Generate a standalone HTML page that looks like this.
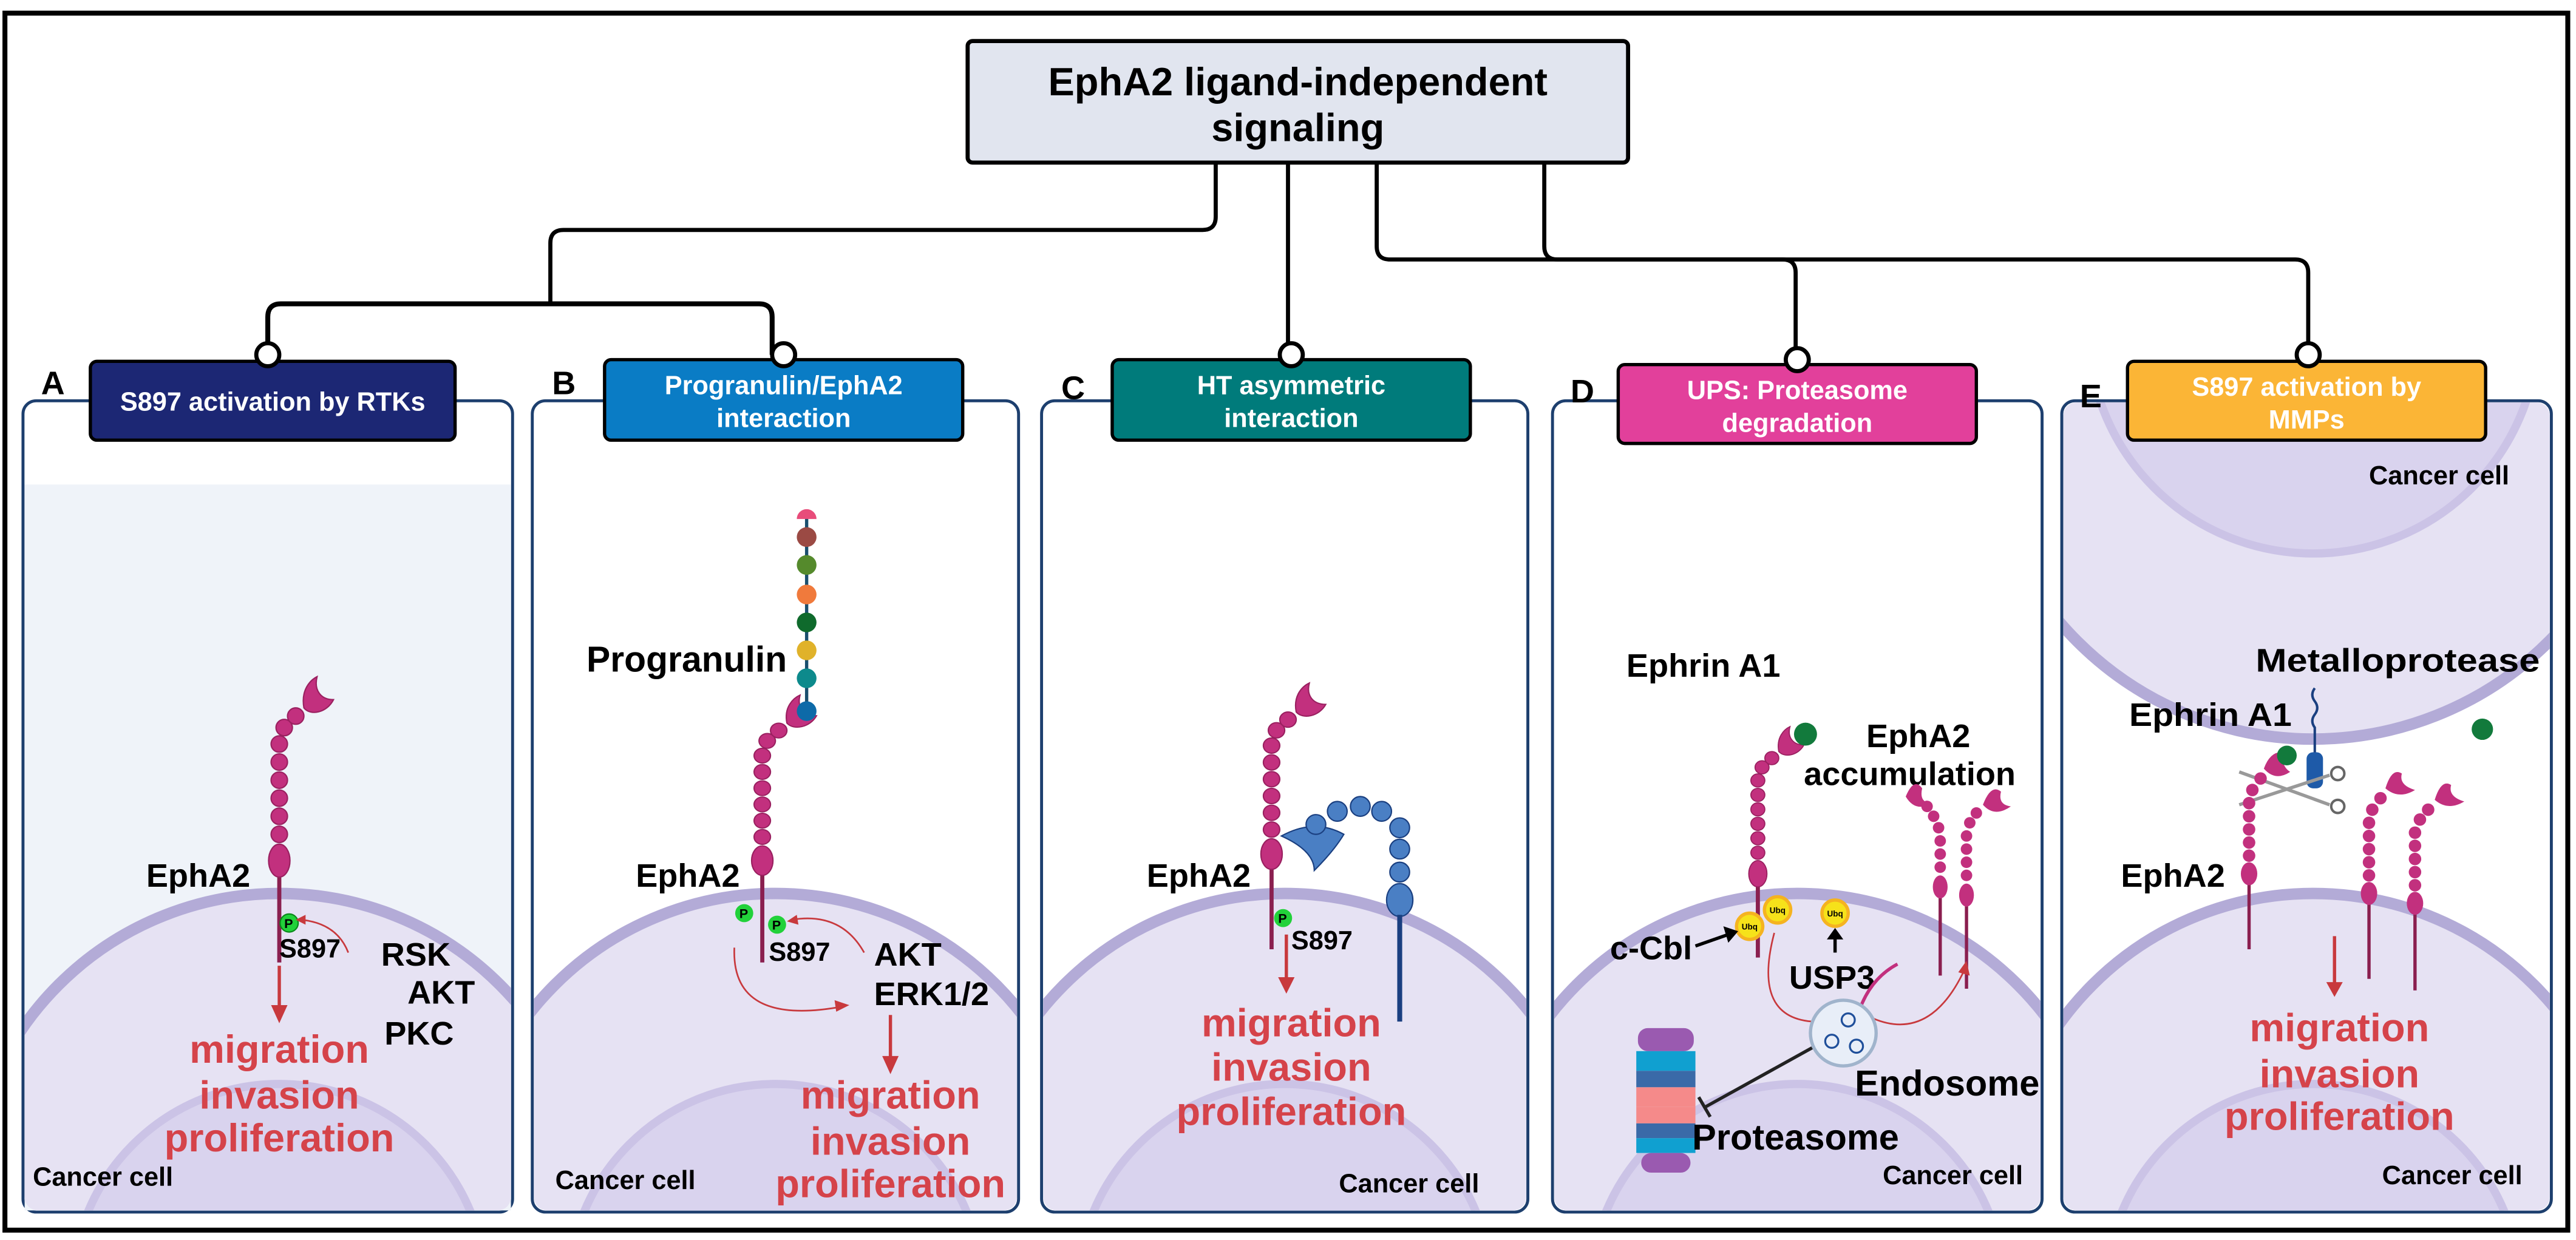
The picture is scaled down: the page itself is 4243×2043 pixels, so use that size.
<!DOCTYPE html>
<html><head><meta charset="utf-8"><style>
html,body{margin:0;padding:0;background:#fff;overflow:hidden;width:4243px;height:2043px}
svg{display:block}
text{font-family:"Liberation Sans",sans-serif;font-weight:bold}
</style></head><body>
<svg width="4243" height="2043" viewBox="0 0 1568 755" preserveAspectRatio="none" xmlns="http://www.w3.org/2000/svg">
<defs>
<g id="rec">
 <g fill="#c2307e" stroke="#9a2060" stroke-width="0.8">
 <ellipse cx="0" cy="0" rx="6.5" ry="10"/>
 <circle cx="0" cy="-16" r="5"/><circle cx="0" cy="-27" r="5"/><circle cx="0" cy="-38" r="5"/>
 <circle cx="0" cy="-49" r="5"/><circle cx="0" cy="-60" r="5"/><circle cx="0" cy="-71" r="5"/>
 <circle cx="3" cy="-81" r="5"/><circle cx="10" cy="-88" r="5"/>
 <path d="M15,-93 C13,-104 19,-110 23,-112 C21,-104 25,-98 33,-98 C29,-90 19,-88 15,-93Z"/>
 </g>
</g>
<g id="cir"><circle r="7" fill="#fff" stroke="#000" stroke-width="2.5"/></g>
</defs>
<rect x="3" y="8" width="1560" height="741" fill="#fff" stroke="#000" stroke-width="3"/>
<g fill="none" stroke="#000" stroke-width="2.5">
<path d="M740,98 V132 Q740,140 732,140 H343 Q335,140 335,148 V185"/>
<path d="M163,216 V193 Q163,185 171,185 H462 Q470,185 470,193 V216" stroke-width="3"/>
<path d="M784,98 V216"/>
<path d="M838,98 V150 Q838,158 846,158 H1085 Q1093,158 1093,166 V218"/>
<path d="M940,98 V150 Q940,158 948,158 H1397 Q1405,158 1405,166 V216"/>
</g>
<rect x="589" y="25" width="402" height="74" rx="3" fill="#e1e5ef" stroke="#000" stroke-width="2.5"/>
<text x="790" y="58" font-size="24" text-anchor="middle">EphA2 ligand-independent</text>
<text x="790" y="86" font-size="24" text-anchor="middle">signaling</text>
<g fill="none" stroke="#1d3f6e" stroke-width="1.8">
<rect x="14" y="244" width="298" height="494" rx="8"/>
<rect x="324" y="244" width="296" height="494" rx="8"/>
<rect x="634" y="244" width="296" height="494" rx="8"/>
<rect x="945" y="244" width="298" height="494" rx="8"/>
<rect x="1255" y="244" width="298" height="494" rx="8"/>
</g>
<rect x="15" y="295" width="296" height="442" fill="#eff3f9"/>
<clipPath id="cA"><rect x="15" y="245" width="296" height="492" rx="8"/></clipPath>
<clipPath id="cB"><rect x="325" y="245" width="294" height="492" rx="8"/></clipPath>
<clipPath id="cC"><rect x="635" y="245" width="294" height="492" rx="8"/></clipPath>
<clipPath id="cD"><rect x="946" y="245" width="296" height="492" rx="8"/></clipPath>
<clipPath id="cE"><rect x="1256" y="245" width="296" height="492" rx="8"/></clipPath>
<g clip-path="url(#cA)"><circle cx="170" cy="734" r="190" fill="#e6e2f3" stroke="#b3abd7" stroke-width="7"/><circle cx="170" cy="786" r="126" fill="#d9d3ee" stroke="#cbc3e6" stroke-width="5"/></g>
<g clip-path="url(#cB)"><circle cx="472" cy="734" r="190" fill="#e6e2f3" stroke="#b3abd7" stroke-width="7"/><circle cx="472" cy="786" r="126" fill="#d9d3ee" stroke="#cbc3e6" stroke-width="5"/></g>
<g clip-path="url(#cC)"><circle cx="782" cy="734" r="190" fill="#e6e2f3" stroke="#b3abd7" stroke-width="7"/><circle cx="782" cy="786" r="126" fill="#d9d3ee" stroke="#cbc3e6" stroke-width="5"/></g>
<g clip-path="url(#cD)"><circle cx="1094" cy="734" r="190" fill="#e6e2f3" stroke="#b3abd7" stroke-width="7"/><circle cx="1094" cy="786" r="126" fill="#d9d3ee" stroke="#cbc3e6" stroke-width="5"/></g>
<g clip-path="url(#cE)"><rect x="1256" y="245" width="296" height="60" fill="#e6e2f3"/><circle cx="1408" cy="247" r="203" fill="#e6e2f3" stroke="#b3abd7" stroke-width="7"/><circle cx="1408" cy="200" r="137" fill="#d9d3ee" stroke="#cbc3e6" stroke-width="5"/><circle cx="1408" cy="734" r="190" fill="#e6e2f3" stroke="#b3abd7" stroke-width="7"/><circle cx="1408" cy="786" r="126" fill="#d9d3ee" stroke="#cbc3e6" stroke-width="5"/></g>
<rect x="55" y="220" width="222" height="48" rx="4" fill="#1c2774" stroke="#000" stroke-width="2"/>
<text x="166" y="250" font-size="16" fill="#fff" text-anchor="middle">S897 activation by RTKs</text>
<rect x="368" y="219" width="218" height="49" rx="4" fill="#0a7cc5" stroke="#000" stroke-width="2"/>
<text x="477" y="240" font-size="16" fill="#fff" text-anchor="middle">Progranulin/EphA2</text>
<text x="477" y="260" font-size="16" fill="#fff" text-anchor="middle">interaction</text>
<rect x="677" y="219" width="218" height="49" rx="4" fill="#007b7b" stroke="#000" stroke-width="2"/>
<text x="786" y="240" font-size="16" fill="#fff" text-anchor="middle">HT asymmetric</text>
<text x="786" y="260" font-size="16" fill="#fff" text-anchor="middle">interaction</text>
<rect x="985" y="222" width="218" height="48" rx="4" fill="#e2409b" stroke="#000" stroke-width="2"/>
<text x="1094" y="243" font-size="16" fill="#fff" text-anchor="middle">UPS: Proteasome</text>
<text x="1094" y="263" font-size="16" fill="#fff" text-anchor="middle">degradation</text>
<rect x="1295" y="220" width="218" height="48" rx="4" fill="#fbb536" stroke="#000" stroke-width="2"/>
<text x="1404" y="241" font-size="16" fill="#fff" text-anchor="middle">S897 activation by</text>
<text x="1404" y="261" font-size="16" fill="#fff" text-anchor="middle">MMPs</text>
<use href="#cir" x="163" y="216"/><use href="#cir" x="477" y="216"/><use href="#cir" x="786" y="216"/><use href="#cir" x="1094" y="219"/><use href="#cir" x="1405" y="216"/>
<g font-size="20"><text x="25" y="240">A</text><text x="336" y="240">B</text><text x="646" y="243">C</text><text x="956" y="245">D</text><text x="1266" y="248">E</text></g>
<!-- Panel A -->
<line x1="170" y1="530" x2="170" y2="586" stroke="#8a1f4f" stroke-width="2.5"/>
<use href="#rec" transform="translate(170,524)"/>
<text x="89" y="540" font-size="20">EphA2</text>
<circle cx="176" cy="562" r="5.5" fill="#22d13a" stroke="#0a8a1a" stroke-width="0.8"/><text x="173" y="565" font-size="8" font-weight="normal">P</text>
<text x="170" y="583" font-size="16">S897</text>
<path d="M212,580 Q205,562 183,560" fill="none" stroke="#c8393d" stroke-width="1"/><path d="M186,557 L180,560 L186,563Z" fill="#c8393d"/>
<g font-size="20"><text x="232" y="588">RSK</text><text x="248" y="611">AKT</text><text x="234" y="636">PKC</text></g>
<line x1="170" y1="588" x2="170" y2="614" stroke="#c8393d" stroke-width="2"/><path d="M165,612 L175,612 L170,623Z" fill="#c8393d"/>
<g font-size="24" fill="#d5434a" text-anchor="middle"><text x="170" y="647">migration</text><text x="170" y="675">invasion</text><text x="170" y="701">proliferation</text></g>
<text x="20" y="722" font-size="16">Cancer cell</text>
<!-- Panel B -->
<line x1="491" y1="313" x2="491" y2="433" stroke="#1a4f6e" stroke-width="2"/>
<path d="M485,316 A6,6 0 0 1 497,316Z" fill="#e84c7a"/>
<circle cx="491" cy="327" r="6" fill="#9b4a44"/><circle cx="491" cy="344" r="6" fill="#558a2c"/><circle cx="491" cy="362" r="6" fill="#f07a3c"/><circle cx="491" cy="379" r="6" fill="#0f6a2c"/><circle cx="491" cy="396" r="6" fill="#e0b22a"/><circle cx="491" cy="413" r="6" fill="#0d8a8c"/>
<line x1="464" y1="530" x2="464" y2="586" stroke="#8a1f4f" stroke-width="2.5"/>
<use href="#rec" transform="translate(464,524) scale(1,0.9)"/>
<circle cx="491" cy="433" r="6" fill="#0d6aa8"/>
<text x="357" y="409" font-size="22" textLength="122" lengthAdjust="spacingAndGlyphs">Progranulin</text>
<text x="387" y="540" font-size="20">EphA2</text>
<circle cx="453" cy="556" r="5.5" fill="#22d13a"/><circle cx="473" cy="563" r="5.5" fill="#22d13a"/>
<text x="450" y="559" font-size="8" font-weight="normal">P</text><text x="470" y="566" font-size="8" font-weight="normal">P</text>
<text x="468" y="585" font-size="16">S897</text>
<path d="M526,580 Q512,555 482,560" fill="none" stroke="#c8393d" stroke-width="1"/><path d="M485,557 L479,561 L486,563Z" fill="#c8393d"/>
<path d="M447,577 Q445,625 512,613" fill="none" stroke="#c8393d" stroke-width="1"/><path d="M508,609 L517,612 L509,616Z" fill="#c8393d"/>
<g font-size="20"><text x="532" y="588">AKT</text><text x="532" y="612">ERK1/2</text></g>
<line x1="542" y1="618" x2="542" y2="645" stroke="#c8393d" stroke-width="2"/><path d="M537,643 L547,643 L542,654Z" fill="#c8393d"/>
<g font-size="24" fill="#d5434a" text-anchor="middle"><text x="542" y="675">migration</text><text x="542" y="703">invasion</text><text x="542" y="729">proliferation</text></g>
<text x="338" y="724" font-size="16">Cancer cell</text>
<!-- Panel C -->
<line x1="774" y1="528" x2="774" y2="578" stroke="#8a1f4f" stroke-width="2.5"/>
<use href="#rec" transform="translate(774,520) scale(1,0.93)"/>
<g fill="#4a7fc4" stroke="#1a3f80" stroke-width="0.8">
<path d="M780,509 Q800,498 818,508 Q812,518 800,530 Q800,518 780,509Z"/>
<circle cx="801" cy="502" r="6"/><circle cx="814" cy="494" r="6"/><circle cx="828" cy="491" r="6"/><circle cx="841" cy="494" r="6"/><circle cx="852" cy="504" r="6"/>
<circle cx="852" cy="517" r="6"/><circle cx="852" cy="531" r="6"/><ellipse cx="852" cy="548" rx="8" ry="10"/>
</g>
<line x1="852" y1="557" x2="852" y2="622" stroke="#1a3f80" stroke-width="3"/>
<text x="698" y="540" font-size="20">EphA2</text>
<circle cx="781" cy="559" r="5.5" fill="#22d13a"/><text x="778" y="562" font-size="8" font-weight="normal">P</text>
<text x="786" y="578" font-size="16">S897</text>
<line x1="783" y1="569" x2="783" y2="597" stroke="#c8393d" stroke-width="2"/><path d="M778,595 L788,595 L783,605Z" fill="#c8393d"/>
<g font-size="24" fill="#d5434a" text-anchor="middle"><text x="786" y="631">migration</text><text x="786" y="658">invasion</text><text x="786" y="685">proliferation</text></g>
<text x="815" y="726" font-size="16">Cancer cell</text>
<!-- Panel D -->
<text x="990" y="412" font-size="20">Ephrin A1</text>
<line x1="1070" y1="538" x2="1070" y2="583" stroke="#8a1f4f" stroke-width="2.5"/>
<use href="#rec" transform="translate(1070,532) scale(0.85,0.8)"/>
<circle cx="1099" cy="447" r="7" fill="#127a3c"/>
<text x="1136" y="455" font-size="20">EphA2</text><text x="1098" y="478" font-size="20">accumulation</text>
<line x1="1181" y1="545" x2="1181" y2="594" stroke="#8a1f4f" stroke-width="2"/><line x1="1197" y1="550" x2="1197" y2="602" stroke="#8a1f4f" stroke-width="2"/>
<g fill="#c2307e">
<ellipse cx="1181" cy="540" rx="4.5" ry="7"/><circle cx="1181" cy="528" r="3.5"/><circle cx="1181" cy="520" r="3.5"/><circle cx="1181" cy="512" r="3.5"/><circle cx="1180" cy="504" r="3.5"/><circle cx="1177" cy="497" r="3.5"/><circle cx="1173" cy="491" r="3.5"/><path d="M1160,485 Q1165,473 1170,480 Q1168,489 1176,489 Q1166,495 1160,485Z"/>
<ellipse cx="1197" cy="545" rx="4.5" ry="7"/><circle cx="1197" cy="533" r="3.5"/><circle cx="1197" cy="525" r="3.5"/><circle cx="1197" cy="517" r="3.5"/><circle cx="1197" cy="509" r="3.5"/><circle cx="1199" cy="501" r="3.5"/><circle cx="1203" cy="495" r="3.5"/><path d="M1207,490 Q1212,477 1218,482 Q1216,490 1224,491 Q1214,498 1207,490Z"/>
</g>
<g fill="#f6e21a" stroke="#f5b320" stroke-width="2"><circle cx="1065" cy="564" r="8"/><circle cx="1082" cy="554" r="8"/><circle cx="1117" cy="556" r="8"/></g>
<g font-size="5" text-anchor="middle"><text x="1065" y="566">Ubq</text><text x="1082" y="556">Ubq</text><text x="1117" y="558">Ubq</text></g>
<text x="980" y="584" font-size="20">c-Cbl</text>
<line x1="1032" y1="576" x2="1052" y2="569" stroke="#000" stroke-width="2"/><path d="M1049,564 L1058,567 L1052,574Z"/>
<line x1="1117" y1="580" x2="1117" y2="570" stroke="#000" stroke-width="2"/><path d="M1112,572 L1122,572 L1117,565Z"/>
<text x="1089" y="602" font-size="20">USP3</text>
<path d="M1080,568 Q1065,625 1112,622" fill="none" stroke="#c8393d" stroke-width="1"/><path d="M1108,618 L1116,622 L1108,626Z" fill="#c8393d"/>
<path d="M1140,620 Q1175,635 1196,590" fill="none" stroke="#c8393d" stroke-width="1"/><path d="M1192,592 L1197,585 L1199,594Z" fill="#c8393d"/>
<path d="M1133,612 Q1140,595 1155,587" fill="none" stroke="#c2307e" stroke-width="2"/>
<circle cx="1122" cy="629" r="20" fill="#e8eef8" stroke="#a0b4cc" stroke-width="2"/>
<g fill="none" stroke="#1f4f9a" stroke-width="1.2"><circle cx="1125" cy="621" r="4"/><circle cx="1115" cy="634" r="4"/><circle cx="1130" cy="637" r="4"/></g>
<line x1="1103" y1="638" x2="1038" y2="674" stroke="#222" stroke-width="2"/><line x1="1034" y1="668" x2="1041" y2="680" stroke="#222" stroke-width="2"/>
<g><rect x="997" y="626" width="34" height="14" rx="6" fill="#9a5ab0"/><rect x="996" y="640" width="36" height="12" fill="#10a0d0"/><rect x="996" y="652" width="36" height="10" fill="#3a6aa8"/><rect x="996" y="662" width="36" height="12" fill="#f58a8a"/><rect x="996" y="674" width="36" height="10" fill="#f58a8a"/><rect x="996" y="684" width="36" height="9" fill="#3a6aa8"/><rect x="996" y="693" width="36" height="9" fill="#10a0d0"/><rect x="999" y="702" width="30" height="12" rx="6" fill="#9a5ab0"/></g>
<text x="1129" y="667" font-size="22">Endosome</text>
<text x="1030" y="700" font-size="22">Proteasome</text>
<text x="1146" y="721" font-size="16">Cancer cell</text>
<!-- Panel E -->
<text x="1442" y="295" font-size="16">Cancer cell</text>
<text x="1373" y="409" font-size="20" textLength="173" lengthAdjust="spacingAndGlyphs">Metalloprotease</text>
<text x="1296" y="442" font-size="20" textLength="99" lengthAdjust="spacingAndGlyphs">Ephrin A1</text>
<path d="M1409,419 q-3,4 0,8 q3,4 0,8 q-3,4 0,8 V460" fill="none" stroke="#1a3f80" stroke-width="1.5"/>
<rect x="1404" y="458" width="10" height="22" rx="4" fill="#1e5aa8"/>
<g fill="none" stroke="#999" stroke-width="2"><line x1="1363" y1="470" x2="1418" y2="490"/><line x1="1363" y1="490" x2="1418" y2="472"/></g>
<g fill="none" stroke="#666" stroke-width="1.5"><circle cx="1423" cy="491" r="4"/><circle cx="1423" cy="471" r="4"/></g>
<g stroke="#8a1f4f" stroke-width="2"><line x1="1369" y1="536" x2="1369" y2="578"/><line x1="1442" y1="548" x2="1442" y2="596"/><line x1="1470" y1="553" x2="1470" y2="603"/></g>
<g fill="#c2307e">
<ellipse cx="1369" cy="532" rx="5" ry="7"/><circle cx="1369" cy="521" r="3.8"/><circle cx="1369" cy="513" r="3.8"/><circle cx="1369" cy="505" r="3.8"/><circle cx="1369" cy="497" r="3.8"/><circle cx="1369" cy="489" r="3.8"/><circle cx="1371" cy="481" r="3.8"/><circle cx="1376" cy="474" r="3.8"/><path d="M1378,468 Q1382,457 1390,458 Q1388,466 1394,470 Q1385,476 1378,468Z"/>
<ellipse cx="1442" cy="544" rx="5" ry="7"/><circle cx="1442" cy="533" r="3.8"/><circle cx="1442" cy="525" r="3.8"/><circle cx="1442" cy="517" r="3.8"/><circle cx="1442" cy="509" r="3.8"/><circle cx="1442" cy="501" r="3.8"/><circle cx="1444" cy="493" r="3.8"/><circle cx="1449" cy="486" r="3.8"/><path d="M1452,480 Q1456,467 1462,471 Q1460,478 1470,481 Q1460,487 1452,480Z"/>
<ellipse cx="1470" cy="550" rx="5" ry="7"/><circle cx="1470" cy="539" r="3.8"/><circle cx="1470" cy="531" r="3.8"/><circle cx="1470" cy="523" r="3.8"/><circle cx="1470" cy="515" r="3.8"/><circle cx="1470" cy="507" r="3.8"/><circle cx="1473" cy="499" r="3.8"/><circle cx="1478" cy="493" r="3.8"/><path d="M1482,487 Q1486,474 1492,478 Q1490,485 1500,488 Q1490,494 1482,487Z"/>
</g>
<circle cx="1392" cy="460" r="6" fill="#127a3c"/><circle cx="1511" cy="444" r="6.5" fill="#127a3c"/>
<text x="1291" y="540" font-size="20">EphA2</text>
<line x1="1421" y1="570" x2="1421" y2="600" stroke="#c8393d" stroke-width="2"/><path d="M1416,598 L1426,598 L1421,607Z" fill="#c8393d"/>
<g font-size="24" fill="#d5434a" text-anchor="middle"><text x="1424" y="634">migration</text><text x="1424" y="662">invasion</text><text x="1424" y="688">proliferation</text></g>
<text x="1450" y="721" font-size="16">Cancer cell</text>
</svg>
</body></html>
